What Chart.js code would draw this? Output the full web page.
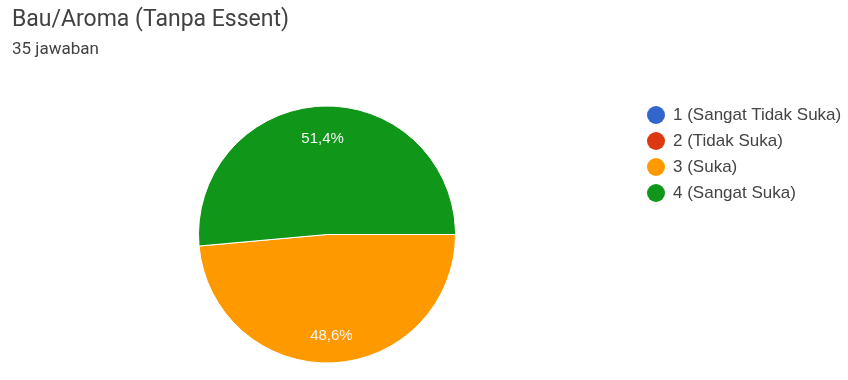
<!DOCTYPE html>
<html>
<head>
<meta charset="utf-8">
<script src="https://cdn.jsdelivr.net/npm/chart.js@4"></script>
<style>
  html, body { margin: 0; padding: 0; background: #fff; }
  body { width: 848px; height: 380px; position: relative; overflow: hidden; font-family: Roboto, "Noto Sans", Arial, sans-serif; }
  #title { position: absolute; left: 12px; top: 7px; font-size: 23px; line-height: 23px; color: #424242; white-space: nowrap; }
  #subtitle { position: absolute; left: 12px; top: 40px; font-size: 17px; line-height: 17px; color: #424242; white-space: nowrap; }
  #wrap { position: absolute; left: 0; top: 0; width: 848px; height: 380px; }
  #legend { position: absolute; left: 647px; top: 102px; margin: 0; padding: 0; list-style: none; font-family: "Liberation Sans", Arial, sans-serif; }
  #legend li { height: 26px; display: flex; align-items: center; font-size: 17px; color: #444444; white-space: nowrap; }
  #legend span.dot { display: inline-block; width: 18px; height: 18px; border-radius: 50%; margin-right: 8px; }
</style>
</head>
<body>
<div id="wrap"><canvas id="c" width="848" height="380"></canvas></div>
<div id="title"></div>
<div id="subtitle"></div>
<ul id="legend"></ul>
<script>
const titleText = "Bau/Aroma (Tanpa Essent)";
const subtitleText = "35 jawaban";
const categories = ["1 (Sangat Tidak Suka)", "2 (Tidak Suka)", "3 (Suka)", "4 (Sangat Suka)"];
const responses = [0, 0, 17, 18];
const colors = ["#3366cc", "#dc3912", "#ff9900", "#109618"];

document.getElementById('title').textContent = titleText;
document.getElementById('subtitle').textContent = subtitleText;
const legendEl = document.getElementById('legend');
categories.forEach((c, i) => {
  const li = document.createElement('li');
  const dot = document.createElement('span');
  dot.className = 'dot';
  dot.style.background = colors[i];
  li.appendChild(dot);
  li.appendChild(document.createTextNode(c));
  legendEl.appendChild(li);
});

const total = responses.reduce((a, b) => a + b, 0);

const pctLabels = {
  id: 'pctLabels',
  afterDatasetsDraw(chart) {
    const ctx = chart.ctx;
    const meta = chart.getDatasetMeta(0);
    ctx.save();
    ctx.font = '15px "Liberation Sans", Arial, sans-serif';
    ctx.fillStyle = '#f4f4f4';
    ctx.textAlign = 'center';
    ctx.textBaseline = 'middle';
    meta.data.forEach((arc, i) => {
      const v = responses[i];
      if (!v) return;
      const p = arc.getProps(['x', 'y', 'startAngle', 'endAngle', 'outerRadius'], true);
      const mid = (p.startAngle + p.endAngle) / 2;
      const r = p.outerRadius * 0.77;
      const txt = (v / total * 100).toFixed(1).replace('.', ',') + '%';
      ctx.fillText(txt, p.x + Math.cos(mid) * r, p.y + Math.sin(mid) * r + 3);
    });
    ctx.restore();
  }
};

new Chart(document.getElementById('c'), {
  type: 'pie',
  data: {
    labels: categories,
    datasets: [{
      data: responses,
      backgroundColor: colors,
      borderColor: '#ffffff',
      borderWidth: 1
    }]
  },
  options: {
    responsive: false,
    animation: false,
    rotation: 90,
    layout: { padding: { left: 198, right: 392, top: 105, bottom: 16 } },
    plugins: {
      legend: { display: false },
      tooltip: { enabled: false }
    }
  },
  plugins: [pctLabels]
});
</script>
</body>
</html>
